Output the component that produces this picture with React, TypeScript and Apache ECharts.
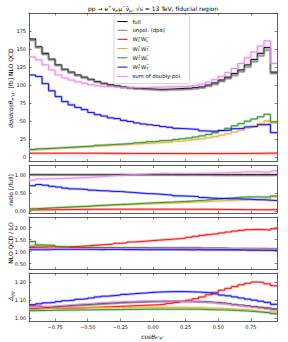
import React, { useEffect, useRef } from 'react';
import * as echarts from 'echarts';

// ---------------- data ----------------
const binEdges: number[] = Array.from({ length: 39 }, (_, i) => +(-0.95 + 0.05 * i).toFixed(2));
const xTicks = [-0.75, -0.5, -0.25, 0, 0.25, 0.5, 0.75];
const p1Ticks = [0, 25, 50, 75, 100, 125, 150, 175];
const p2Ticks = [0, 0.5, 1];
const p3Ticks = [0.5, 1, 1.5, 2];
const p4Ticks = [1, 1.1, 1.2];

// panel 1: dsigma/dcos [fb] NLO QCD
const full1 = [164, 153, 144, 136, 128, 122, 118, 114, 111, 108, 105, 102.5, 100.5, 99, 97.5, 96.5, 95.5, 95, 94.5, 94, 94, 94.5, 95, 95.5, 95.5, 96.5, 97.5, 100, 103, 107, 111, 116, 121, 128, 135.5, 144, 152, 118];
const unpol1 = [162, 152, 142.5, 135, 127, 121, 117, 113, 110, 107, 104, 101.5, 99.5, 98, 96.5, 95.5, 94.5, 94, 93.5, 93, 93, 93.5, 93.5, 94, 94.5, 95, 96, 98.5, 101, 105, 109, 113.5, 118.5, 125, 132.5, 140.5, 148.5, 116];
const wlwl1 = [5.5, 5.5, 5.5, 5.5, 5.5, 5.5, 5.5, 5.5, 5.5, 5.5, 5.5, 5.3, 5.3, 5.3, 5.2, 5.2, 5.2, 5.1, 5.1, 5.1, 5.1, 5.0, 5.0, 5.0, 5.0, 5.0, 5.0, 5.0, 5.0, 5.0, 5.0, 5.1, 5.1, 5.2, 5.3, 5.4, 5.6, 5.6];
const wlwt1 = [10.5, 11, 11.5, 12, 12.5, 13, 13.5, 14, 14.5, 15, 15.5, 16, 16.5, 17, 17.5, 18, 18.5, 19, 19.5, 20, 20.5, 21, 22, 22.5, 23.5, 24.5, 25.5, 27, 28.5, 30.5, 32.5, 35, 37.5, 40.5, 43.5, 46.5, 50.5, 47.5];
const wtwl1 = [10.5, 11.5, 12, 12.5, 13, 13.5, 14, 14.5, 15, 15.5, 16.5, 17, 17.5, 18, 18.5, 19, 20, 20.5, 21.5, 22, 23, 23.5, 24.5, 25.5, 26.5, 28, 29.5, 31.5, 34, 37, 40, 43.5, 46.5, 50, 53, 56, 59.5, 49];
const wtwt1 = [114, 112, 102, 92, 84, 77, 72.5, 69, 66, 62, 59, 57, 54.5, 53.5, 51, 49.5, 47.5, 46, 45, 44, 42.5, 41.5, 40, 39.5, 39, 38.5, 36.5, 36, 36, 37, 37.5, 39.5, 40, 42, 42.5, 45, 45.5, 34];
const sum1 = [139, 135, 128, 121, 114, 110, 107, 104.5, 102.5, 100.5, 99, 98, 97.5, 97, 97, 96.5, 96.5, 96.5, 97, 97, 97.5, 97.5, 98, 98, 98.5, 99.5, 101.5, 104, 107.5, 112, 117.5, 123, 130, 138, 146, 154, 161.5, 130];

// panel 2: ratio [/full]
const full2 = [1, 1, 1, 1, 1, 1, 1, 1, 1, 1, 1, 1, 1, 1, 1, 1, 1, 1, 1, 1, 1, 1, 1, 1, 1, 1, 1, 1, 1, 1, 1, 1, 1, 1, 1, 1, 1, 1];
const unpol2 = [0.988, 0.993, 0.99, 0.993, 0.992, 0.992, 0.992, 0.991, 0.991, 0.991, 0.99, 0.99, 0.99, 0.99, 0.99, 0.99, 0.99, 0.99, 0.989, 0.989, 0.989, 0.989, 0.984, 0.984, 0.99, 0.984, 0.985, 0.985, 0.98, 0.981, 0.982, 0.978, 0.979, 0.977, 0.978, 0.976, 0.977, 0.983];
const wlwl2 = [0.034, 0.036, 0.038, 0.04, 0.043, 0.045, 0.047, 0.048, 0.05, 0.051, 0.052, 0.052, 0.053, 0.054, 0.053, 0.054, 0.054, 0.054, 0.054, 0.054, 0.054, 0.053, 0.053, 0.052, 0.052, 0.052, 0.051, 0.05, 0.049, 0.047, 0.045, 0.044, 0.042, 0.041, 0.039, 0.0375, 0.037, 0.047];
const wlwt2 = [0.064, 0.072, 0.08, 0.088, 0.098, 0.107, 0.114, 0.123, 0.13, 0.139, 0.148, 0.156, 0.164, 0.172, 0.18, 0.187, 0.194, 0.2, 0.206, 0.213, 0.218, 0.222, 0.232, 0.236, 0.246, 0.254, 0.262, 0.27, 0.277, 0.285, 0.293, 0.302, 0.31, 0.316, 0.321, 0.323, 0.332, 0.4];
const wtwl2 = [0.064, 0.075, 0.083, 0.092, 0.1, 0.11, 0.119, 0.127, 0.135, 0.144, 0.157, 0.166, 0.174, 0.182, 0.19, 0.197, 0.209, 0.216, 0.228, 0.234, 0.245, 0.249, 0.258, 0.267, 0.277, 0.29, 0.3, 0.315, 0.33, 0.346, 0.36, 0.375, 0.384, 0.39, 0.39, 0.389, 0.39, 0.415];
const wtwt2 = [0.695, 0.73, 0.71, 0.68, 0.66, 0.63, 0.61, 0.605, 0.595, 0.575, 0.56, 0.556, 0.54, 0.54, 0.523, 0.513, 0.497, 0.484, 0.476, 0.468, 0.452, 0.44, 0.42, 0.414, 0.408, 0.4, 0.374, 0.36, 0.35, 0.346, 0.338, 0.34, 0.33, 0.328, 0.314, 0.3125, 0.3, 0.29];
const sum2 = [0.848, 0.882, 0.889, 0.89, 0.89, 0.9, 0.907, 0.917, 0.923, 0.93, 0.943, 0.956, 0.97, 0.98, 0.995, 1.0, 1.01, 1.016, 1.026, 1.03, 1.037, 1.03, 1.03, 1.026, 1.03, 1.03, 1.04, 1.04, 1.044, 1.047, 1.059, 1.06, 1.074, 1.078, 1.077, 1.069, 1.0625, 1.1];

// panel 3: NLO QCD / LO
const full3 = [1.17, 1.17, 1.16, 1.16, 1.16, 1.15, 1.15, 1.15, 1.15, 1.15, 1.15, 1.15, 1.15, 1.15, 1.15, 1.15, 1.15, 1.15, 1.15, 1.15, 1.15, 1.15, 1.15, 1.15, 1.15, 1.15, 1.14, 1.14, 1.14, 1.14, 1.13, 1.13, 1.13, 1.12, 1.12, 1.12, 1.11, 1.11];
const unpol3 = [1.16, 1.16, 1.15, 1.15, 1.15, 1.15, 1.14, 1.14, 1.14, 1.14, 1.14, 1.14, 1.14, 1.14, 1.15, 1.15, 1.15, 1.15, 1.15, 1.15, 1.15, 1.15, 1.15, 1.15, 1.15, 1.15, 1.14, 1.14, 1.14, 1.14, 1.13, 1.13, 1.13, 1.12, 1.12, 1.12, 1.11, 1.11];
const wlwl3 = [1.23, 1.22, 1.2, 1.2, 1.2, 1.2, 1.21, 1.22, 1.24, 1.26, 1.28, 1.3, 1.32, 1.35, 1.37, 1.4, 1.42, 1.44, 1.46, 1.48, 1.5, 1.52, 1.54, 1.56, 1.6, 1.64, 1.68, 1.71, 1.74, 1.78, 1.82, 1.86, 1.89, 1.92, 1.93, 1.92, 1.9, 1.96];
const wlwt3 = [1.25, 1.2, 1.18, 1.17, 1.16, 1.16, 1.15, 1.15, 1.15, 1.15, 1.15, 1.15, 1.14, 1.14, 1.14, 1.14, 1.14, 1.13, 1.13, 1.13, 1.13, 1.13, 1.12, 1.12, 1.12, 1.12, 1.12, 1.11, 1.11, 1.11, 1.11, 1.1, 1.1, 1.1, 1.09, 1.09, 1.09, 1.08];
const wtwl3 = [1.42, 1.28, 1.27, 1.26, 1.2, 1.18, 1.17, 1.17, 1.17, 1.18, 1.16, 1.16, 1.16, 1.15, 1.15, 1.15, 1.15, 1.14, 1.14, 1.14, 1.13, 1.13, 1.12, 1.12, 1.12, 1.11, 1.11, 1.1, 1.1, 1.09, 1.09, 1.08, 1.08, 1.07, 1.07, 1.06, 1.06, 1.05];
const wtwt3 = [1.08, 1.08, 1.08, 1.09, 1.09, 1.09, 1.09, 1.09, 1.09, 1.09, 1.08, 1.09, 1.09, 1.09, 1.08, 1.09, 1.08, 1.08, 1.08, 1.08, 1.08, 1.08, 1.08, 1.08, 1.07, 1.08, 1.07, 1.07, 1.07, 1.07, 1.07, 1.07, 1.07, 1.06, 1.06, 1.06, 1.06, 1.06];
const sum3 = [1.13, 1.12, 1.12, 1.12, 1.12, 1.12, 1.12, 1.12, 1.12, 1.12, 1.13, 1.13, 1.13, 1.13, 1.13, 1.13, 1.13, 1.13, 1.14, 1.14, 1.14, 1.14, 1.14, 1.14, 1.14, 1.14, 1.14, 1.13, 1.13, 1.13, 1.13, 1.13, 1.12, 1.12, 1.12, 1.11, 1.11, 1.11];

// panel 4: Delta_gg
const full4 = [1.054, 1.057, 1.06, 1.063, 1.066, 1.069, 1.072, 1.074, 1.076, 1.079, 1.081, 1.083, 1.085, 1.087, 1.089, 1.09, 1.091, 1.092, 1.093, 1.093, 1.094, 1.094, 1.094, 1.093, 1.093, 1.092, 1.091, 1.089, 1.086, 1.083, 1.08, 1.076, 1.072, 1.068, 1.064, 1.06, 1.056, 1.051];
const unpol4 = [1.05, 1.053, 1.056, 1.06, 1.063, 1.066, 1.069, 1.071, 1.073, 1.075, 1.078, 1.08, 1.082, 1.084, 1.086, 1.088, 1.089, 1.09, 1.091, 1.092, 1.092, 1.092, 1.092, 1.092, 1.091, 1.09, 1.089, 1.087, 1.084, 1.081, 1.078, 1.074, 1.07, 1.066, 1.062, 1.058, 1.055, 1.05];
const wlwl4 = [1.068, 1.066, 1.062, 1.055, 1.054, 1.055, 1.056, 1.057, 1.059, 1.06, 1.061, 1.063, 1.064, 1.066, 1.067, 1.069, 1.07, 1.072, 1.073, 1.075, 1.078, 1.082, 1.087, 1.093, 1.1, 1.108, 1.118, 1.13, 1.143, 1.155, 1.165, 1.175, 1.185, 1.193, 1.2, 1.198, 1.19, 1.18];
const wlwt4 = [1.05, 1.052, 1.054, 1.055, 1.056, 1.057, 1.058, 1.058, 1.059, 1.059, 1.06, 1.06, 1.06, 1.06, 1.06, 1.06, 1.06, 1.06, 1.06, 1.06, 1.06, 1.06, 1.06, 1.06, 1.059, 1.059, 1.058, 1.057, 1.056, 1.054, 1.052, 1.05, 1.048, 1.045, 1.042, 1.038, 1.034, 1.03];
const wtwl4 = [1.042, 1.043, 1.043, 1.044, 1.044, 1.045, 1.045, 1.046, 1.046, 1.047, 1.047, 1.048, 1.048, 1.048, 1.049, 1.049, 1.049, 1.05, 1.05, 1.05, 1.05, 1.05, 1.05, 1.05, 1.05, 1.05, 1.049, 1.048, 1.047, 1.046, 1.045, 1.043, 1.041, 1.039, 1.036, 1.033, 1.03, 1.025];
const wtwt4 = [1.075, 1.08, 1.085, 1.088, 1.092, 1.097, 1.1, 1.105, 1.108, 1.112, 1.118, 1.122, 1.125, 1.128, 1.132, 1.135, 1.138, 1.14, 1.143, 1.145, 1.146, 1.147, 1.147, 1.147, 1.146, 1.145, 1.143, 1.14, 1.135, 1.128, 1.124, 1.118, 1.112, 1.106, 1.1, 1.094, 1.088, 1.077];
const sum4 = [1.058, 1.062, 1.065, 1.068, 1.07, 1.073, 1.076, 1.078, 1.08, 1.082, 1.085, 1.087, 1.089, 1.09, 1.092, 1.093, 1.094, 1.095, 1.095, 1.095, 1.095, 1.094, 1.094, 1.093, 1.092, 1.091, 1.09, 1.087, 1.084, 1.08, 1.077, 1.073, 1.069, 1.065, 1.06, 1.055, 1.05, 1.04];

const curveNames = ['full', 'unpol. (dpa)', 'WLWL', 'WLWT', 'WTWL', 'WTWT', 'sum of doubly-pol.'];
const curveColors = ['#000000', '#808080', '#ff0000', '#f0a830', '#228b22', '#0000ff', '#ee82ee'];
const bandColors = ['#9a9a9a', '#a0a0a0', '#ff8080', '#f5cf85', '#8cc88c', '#8080ff', '#f5b8f5'];

const panels = [
  [full1, unpol1, wlwl1, wlwt1, wtwl1, wtwt1, sum1],
  [full2, unpol2, wlwl2, wlwt2, wtwl2, wtwt2, sum2],
  [full3, unpol3, wlwl3, wlwt3, wtwl3, wtwt3, sum3],
  [full4, unpol4, wlwl4, wlwt4, wtwl4, wtwt4, sum4],
];
const panelRanges = [[-6, 200], [-0.05, 1.25], [0.25, 2.45], [0.985, 1.25]];
const panelTicks = [p1Ticks, p2Ticks, p3Ticks, p4Ticks];
const panelTickDigits = [0, 2, 2, 2];

// ---------------- layout ----------------
const FONT = '"DejaVu Sans"';
const gridBoxes = [
  { left: 29, top: 13, width: 248, height: 148.5 },
  { left: 29, top: 165.5, width: 248, height: 47.5 },
  { left: 29, top: 217, width: 248, height: 52.5 },
  { left: 29, top: 273, width: 248, height: 48 },
];

let measureCtx: CanvasRenderingContext2D | null = null;
function tw(t: string, size: number, italic?: boolean) {
  if (!measureCtx) measureCtx = document.createElement('canvas').getContext('2d');
  measureCtx!.font = `${italic ? 'italic ' : ''}${size}px ${FONT}`;
  return measureCtx!.measureText(t).width;
}

type Part = { t?: string; sup?: string; sub?: string; it?: boolean };
function mathGroup(parts: Part[], fs: number, x: number, y: number, opts: { rotation?: number; align?: 'left' | 'center'; color?: string } = {}) {
  const color = opts.color || '#000';
  const children: any[] = [];
  let cx = 0;
  const mk = (text: string, px: number, py: number, size: number, it?: boolean) => ({
    type: 'text',
    x: px,
    y: py,
    style: {
      text,
      font: `${it ? 'italic ' : ''}${size}px ${FONT}`,
      fill: color,
      textAlign: 'left',
      textVerticalAlign: 'middle',
      align: 'left',
      verticalAlign: 'middle',
    },
  });
  for (const p of parts) {
    if (p.t !== undefined) {
      children.push(mk(p.t, cx, 0, fs, p.it));
      cx += tw(p.t, fs, p.it);
    } else {
      const s = fs * 0.7;
      let w = 0;
      if (p.sup) {
        children.push(mk(p.sup, cx, -fs * 0.33, s, p.it));
        w = Math.max(w, tw(p.sup, s, p.it));
      }
      if (p.sub) {
        children.push(mk(p.sub, cx, fs * 0.3, s, p.it));
        w = Math.max(w, tw(p.sub, s, p.it));
      }
      cx += w + fs * 0.05;
    }
  }
  const shift = opts.align === 'center' ? -cx / 2 : 0;
  children.forEach((c) => (c.x += shift));
  return { type: 'group', x, y, rotation: opts.rotation || 0, children };
}

const legendLabels: Part[][] = [
  [{ t: 'full' }],
  [{ t: 'unpol. (dpa)' }],
  [{ t: 'W' }, { sup: '+', sub: 'L' }, { t: 'W' }, { sup: '−', sub: 'L' }],
  [{ t: 'W' }, { sup: '+', sub: 'L' }, { t: 'W' }, { sup: '−', sub: 'T' }],
  [{ t: 'W' }, { sup: '+', sub: 'T' }, { t: 'W' }, { sup: '−', sub: 'L' }],
  [{ t: 'W' }, { sup: '+', sub: 'T' }, { t: 'W' }, { sup: '−', sub: 'T' }],
  [{ t: 'sum of doubly-pol.' }],
];
const legendY = [21.5, 30.3, 39.3, 48.5, 57.8, 67.1, 76.4];

function buildOption() {
  const grid = gridBoxes.map((g) => ({ ...g, containLabel: false }));
  const axisLineStyle = { color: '#333', width: 0.8 };
  const xAxis: any[] = [];
  const yAxis: any[] = [];
  gridBoxes.forEach((_, p) => {
    const last = p === 3;
    ['bottom', 'top'].forEach((pos) => {
      xAxis.push({
        type: 'value',
        gridIndex: p,
        position: pos,
        min: -0.95,
        max: 0.95,
        axisLine: { show: true, onZero: false, lineStyle: axisLineStyle },
        axisTick: { show: true, inside: true, length: 2.5, customValues: xTicks, lineStyle: { color: '#333', width: 0.6 } },
        axisLabel: {
          show: last && pos === 'bottom',
          customValues: xTicks,
          margin: 3,
          fontSize: 5,
          fontFamily: FONT,
          color: '#111',
          formatter: (v: number) => (v < 0 ? '−' : '') + Math.abs(v).toFixed(2),
        },
        splitLine: { show: false },
      });
    });
    ['left', 'right'].forEach((pos) => {
      yAxis.push({
        type: 'value',
        gridIndex: p,
        position: pos,
        min: panelRanges[p][0],
        max: panelRanges[p][1],
        axisLine: { show: true, onZero: false, lineStyle: axisLineStyle },
        axisTick: { show: true, inside: true, length: 2.5, customValues: panelTicks[p], lineStyle: { color: '#333', width: 0.6 } },
        axisLabel: {
          show: pos === 'left',
          customValues: panelTicks[p],
          margin: 3,
          fontSize: 5,
          fontFamily: FONT,
          color: '#111',
          formatter: (v: number) => v.toFixed(panelTickDigits[p]),
        },
        splitLine: { show: false },
      });
    });
  });

  const series: any[] = [];
  panels.forEach((curves, p) => {
    curves.forEach((vals, c) => {
      const data = vals.map((v, i) => [binEdges[i], v]);
      data.push([binEdges[38], vals[vals.length - 1]]);
      series.push({
        type: 'line',
        name: curveNames[c] + '_band',
        xAxisIndex: p * 2,
        yAxisIndex: p * 2,
        data,
        step: 'end',
        symbol: 'none',
        silent: true,
        z: 1,
        lineStyle: { color: bandColors[c], width: 2.6, opacity: 0.55 },
      });
      series.push({
        type: 'line',
        name: curveNames[c],
        xAxisIndex: p * 2,
        yAxisIndex: p * 2,
        data,
        step: 'end',
        symbol: 'none',
        silent: true,
        z: 3,
        lineStyle: { color: curveColors[c], width: 0.9 },
      });
    });
  });

  const graphic: any[] = [];
  // title
  graphic.push(
    mathGroup(
      [
        { t: 'pp → e' },
        { sup: '+' },
        { t: 'ν' },
        { sub: 'e' },
        { t: 'μ' },
        { sup: '−' },
        { t: 'ν̄' },
        { sub: 'μ' },
        { t: ', √s = 13 TeV, fiducial region' },
      ],
      6,
      153,
      8.5,
      { align: 'center' }
    )
  );
  // y labels
  const rot = Math.PI / 2;
  graphic.push(
    mathGroup([{ t: 'dσ/dcosθ', it: true }, { sub: 'e⁺μ⁻', it: true }, { t: ' [fb] NLO QCD' }], 6, 10.5, 88, { rotation: rot, align: 'center' })
  );
  graphic.push(mathGroup([{ t: 'ratio [/full]' }], 6, 10.5, 190, { rotation: rot, align: 'center' }));
  graphic.push(mathGroup([{ t: 'NLO QCD / LO' }], 6, 10.5, 243, { rotation: rot, align: 'center' }));
  graphic.push(mathGroup([{ t: 'Δ', it: true }, { sub: 'gg', it: true }], 6, 10.5, 296, { rotation: rot, align: 'center' }));
  // x label
  graphic.push(mathGroup([{ t: 'cosθ', it: true }, { sub: 'e⁺μ⁻', it: true }], 6, 153, 336, { align: 'center' }));

  // legend
  graphic.push({
    type: 'rect',
    shape: { x: 114, y: 15, width: 75.5, height: 68.5, r: 2 },
    style: { fill: 'rgba(255,255,255,0.85)', stroke: '#cccccc', lineWidth: 0.8 },
    z: 10,
  });
  legendLabels.forEach((parts, i) => {
    const y = legendY[i];
    graphic.push({
      type: 'line',
      shape: { x1: 117.5, y1: y, x2: 127.5, y2: y },
      style: { stroke: curveColors[i], lineWidth: 1 },
      z: 11,
    });
    const g: any = mathGroup(parts, 5.3, 132.5, y);
    g.z = 11;
    g.children.forEach((c: any) => (c.z = 11));
    graphic.push(g);
  });

  return {
    animation: false,
    backgroundColor: '#ffffff',
    textStyle: { fontFamily: FONT },
    grid,
    xAxis,
    yAxis,
    series,
    graphic,
  };
}

export default function App() {
  const ref = useRef<HTMLDivElement>(null);
  useEffect(() => {
    if (!ref.current) return;
    const chart = echarts.init(ref.current, undefined, { renderer: 'svg' });
    chart.setOption(buildOption() as any);
    return () => chart.dispose();
  }, []);
  return <div ref={ref} style={{ position: 'absolute', left: 0, top: 0, width: 288, height: 342 }} />;
}
